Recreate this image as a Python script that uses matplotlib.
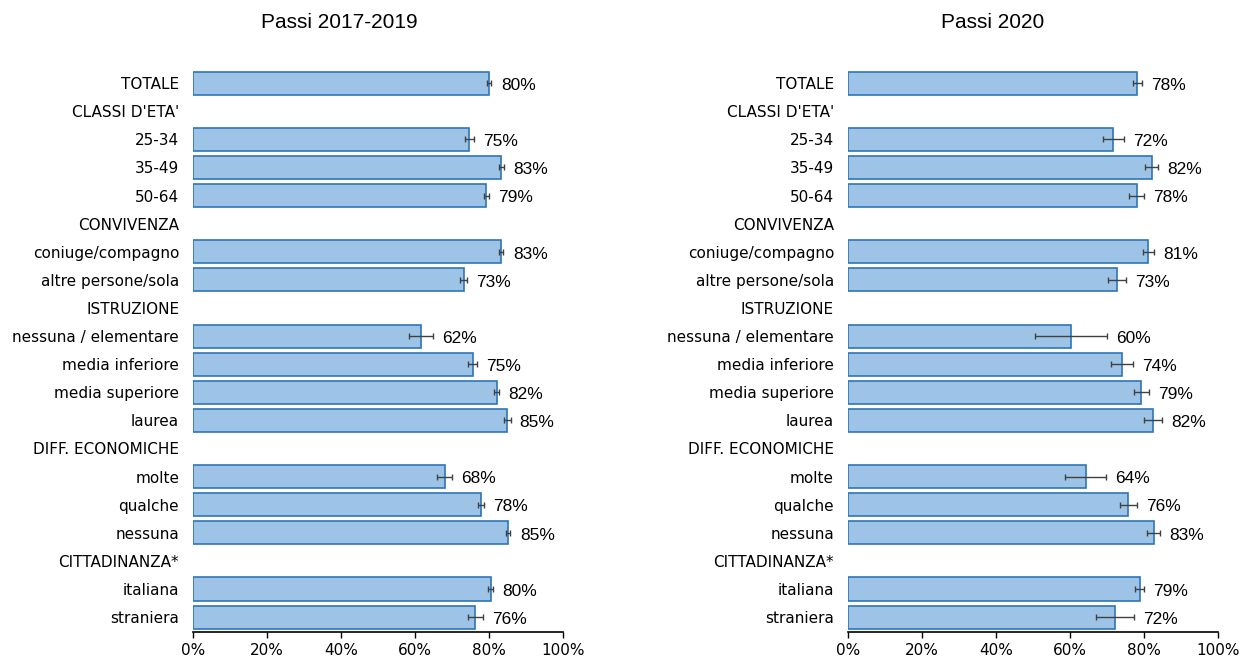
import matplotlib.pyplot as plt
import numpy as np

# rows from top to bottom; header rows have no bar (nan)
categories = ["TOTALE", "CLASSI D'ETA'", "25-34", "35-49", "50-64",
              "CONVIVENZA", "coniuge/compagno", "altre persone/sola",
              "ISTRUZIONE", "nessuna / elementare", "media inferiore",
              "media superiore", "laurea", "DIFF. ECONOMICHE", "molte",
              "qualche", "nessuna", "CITTADINANZA*", "italiana", "straniera"]

nan = np.nan
val_1719 = [80.0, nan, 74.7, 83.3, 79.3, nan, 83.3, 73.1, nan, 61.6, 75.6,
            82.1, 84.9, nan, 68.0, 77.8, 85.1, nan, 80.4, 76.3]
err_1719 = [0.5, nan, 1.3, 0.7, 0.7, nan, 0.5, 1.0, nan, 3.3, 1.2,
            0.7, 0.9, nan, 2.0, 0.9, 0.6, nan, 0.6, 2.1]
lab_1719 = ["80%", "", "75%", "83%", "79%", "", "83%", "73%", "", "62%", "75%",
            "82%", "85%", "", "68%", "78%", "85%", "", "80%", "76%"]

val_2020 = [78.2, nan, 71.7, 82.1, 78.0, nan, 81.2, 72.7, nan, 60.3, 74.1,
            79.3, 82.4, nan, 64.2, 75.8, 82.6, nan, 78.8, 72.2]
err_2020 = [1.3, nan, 2.9, 1.8, 2.1, nan, 1.6, 2.4, nan, 9.7, 3.0,
            2.0, 2.5, nan, 5.5, 2.3, 1.7, nan, 1.3, 5.2]
lab_2020 = ["78%", "", "72%", "82%", "78%", "", "81%", "73%", "", "60%", "74%",
            "79%", "82%", "", "64%", "76%", "83%", "", "79%", "72%"]

titles = ["Passi 2017-2019", "Passi 2020"]
xticks = [0, 20, 40, 60, 80, 100]
xticklabels = ["0%", "20%", "40%", "60%", "80%", "100%"]

fig = plt.figure(figsize=(12.43, 6.64), dpi=100)

panels = [(val_1719, err_1719, lab_1719, 0.1553, 339),
          (val_2020, err_2020, lab_2020, 0.6822, 993)]

y = np.arange(len(categories))
for i, (vals, errs, labs, left, tx) in enumerate(panels):
    ax = fig.add_axes([left, 0.0482, 0.2977, 0.849])
    vals = np.array(vals)
    errs = np.array(errs)
    ok = ~np.isnan(vals)
    ax.barh(y[ok], vals[ok], height=0.82, color="#9dc3e6",
            edgecolor="#2e75b6", linewidth=1.2)
    ax.errorbar(vals[ok], y[ok], xerr=errs[ok], fmt="none",
                ecolor="#404040", elinewidth=1, capsize=2.2, capthick=1)
    for yy, v, e, t in zip(y[ok], vals[ok], errs[ok], np.array(labs)[ok]):
        ax.text(max(v + 3.2, v + e + 2.4), yy + 0.08, t, va="center", ha="left",
                fontsize=12.5, family="Liberation Sans")

    ax.set_xlim(0, 100)
    ax.set_ylim(len(categories) - 0.47, -0.53)
    ax.set_yticks(y)
    ax.set_yticklabels(categories, fontsize=11)
    ax.tick_params(axis="y", length=0, pad=10)
    ax.set_xticks(xticks)
    ax.set_xticklabels(xticklabels, fontsize=11)
    ax.tick_params(axis="x", direction="out", length=4, width=1, pad=4)
    for s in ["top", "right", "left"]:
        ax.spines[s].set_visible(False)
    ax.spines["bottom"].set_linewidth(1.2)

    fig.text(tx / 1243, 1 - 22 / 664, titles[i], ha="center", va="center",
             fontsize=15, family="Liberation Sans")

plt.savefig("out.png", dpi=100)
